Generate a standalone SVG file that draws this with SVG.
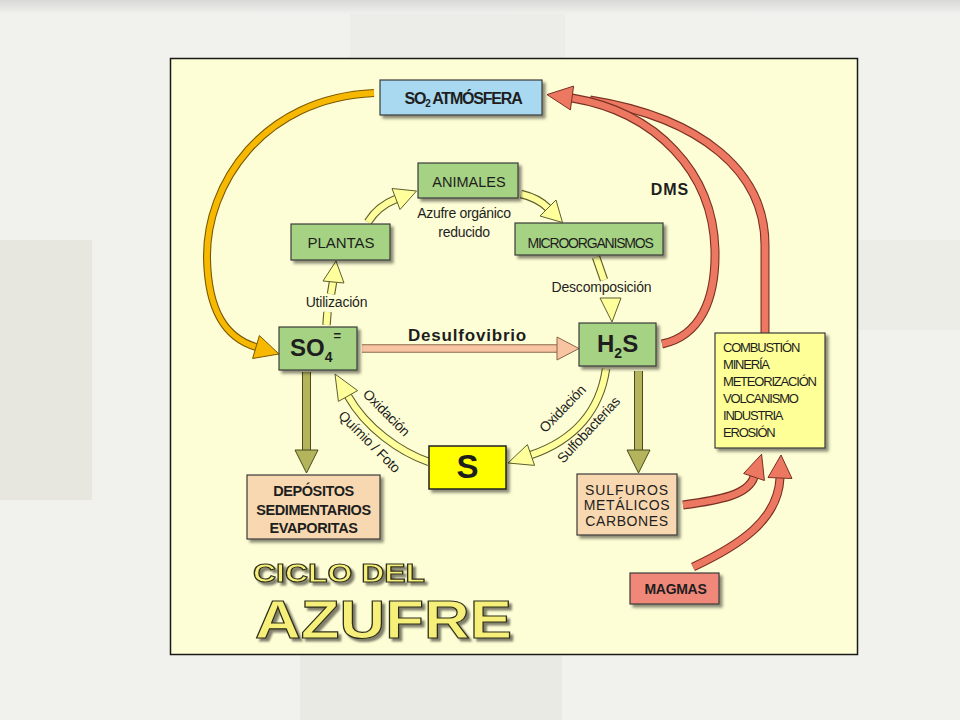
<svg xmlns="http://www.w3.org/2000/svg" width="960" height="720" viewBox="0 0 960 720">
  <defs>
    <linearGradient id="topg" x1="0" y1="0" x2="0" y2="1">
      <stop offset="0" stop-color="#d8d8d8"/>
      <stop offset="1" stop-color="#f0f0ec"/>
    </linearGradient>
    <filter id="sh" x="-20%" y="-20%" width="140%" height="150%">
      <feDropShadow dx="3" dy="3" stdDeviation="1.6" flood-color="#000" flood-opacity="0.45"/>
    </filter>
    <filter id="tsh" x="-10%" y="-20%" width="130%" height="150%">
      <feDropShadow dx="3" dy="3" stdDeviation="1.2" flood-color="#000" flood-opacity="0.5"/>
    </filter>
    <style>
      .box { stroke:#3a3a3a; stroke-width:1.2; filter:url(#sh); }
      .green { fill:#a6d283; }
      .blue { fill:#a9d9f0; }
      .peach { fill:#f8d8b0; }
      .lemon { fill:#ffff98; }
      .yellow { fill:#ffff00; stroke:#222; stroke-width:1.5; }
      .salmon { fill:#f0887a; }
      text { font-family:"Liberation Sans", Arial, sans-serif; fill:#1e1e1e; }
      .c { text-anchor:middle; }
      .b { font-weight:bold; }
      .yo { fill:none; stroke:#5e5e2e; stroke-width:8.5; }
      .yf { fill:none; stroke:#ffff9c; stroke-width:6.3; }
      .yh { fill:#ffff9c; stroke:#5e5e2e; stroke-width:1; stroke-linejoin:round; }
      .ro { fill:none; stroke:#7a3022; stroke-width:9; }
      .rf { fill:none; stroke:#ec7862; stroke-width:6.8; }
      .rh { fill:#ec7862; stroke:#7a3022; stroke-width:1; stroke-linejoin:round; }
      .oo { fill:none; stroke:#7a5800; stroke-width:8; }
      .of { fill:none; stroke:#f6b800; stroke-width:5.8; }
      .oh { fill:#f6b800; stroke:#7a5800; stroke-width:1; stroke-linejoin:round; }
      .po { fill:none; stroke:#8a6448; stroke-width:8.5; }
      .pf { fill:none; stroke:#f8c4a2; stroke-width:6.5; }
      .ph { fill:#f8c4a2; stroke:#8a6448; stroke-width:1; stroke-linejoin:round; }
      .lo { fill:none; stroke:#4a4a1c; stroke-width:9; }
      .lf { fill:none; stroke:#b4b45c; stroke-width:7; }
      .lh { fill:#b4b45c; stroke:#4a4a1c; stroke-width:1; stroke-linejoin:round; }
      .title { font-family:"Liberation Sans", Arial, sans-serif; font-weight:bold; fill:#f6f07a; stroke:#2e2e1a; stroke-width:1.1; filter:url(#tsh); }
    </style>
  </defs>

  <!-- slide background -->
  <rect x="0" y="0" width="960" height="720" fill="#f1f1ed"/>
  <rect x="0" y="0" width="960" height="14" fill="url(#topg)"/>
  <rect x="0" y="240" width="92" height="260" fill="#e7e7e0"/>
  <rect x="350" y="14" width="215" height="44" fill="#ececE8"/>
  <rect x="300" y="655" width="262" height="65" fill="#eaeae5"/>
  <rect x="858" y="240" width="102" height="90" fill="#ededE8"/>

  <!-- panel -->
  <rect x="170.5" y="58.5" width="687" height="596" fill="#fefed6" stroke="#1a1a1a" stroke-width="1.5"/>

  <!-- connectors -->
  <g id="connectors">
    <g id="c-so2-so4">
      <path class="oo" d="M374 93 C262 98 206 185 207 258 C208 312 226 338 256 347"/>
      <path class="of" d="M374 93 C262 98 206 185 207 258 C208 312 226 338 256 347"/>
      <polygon class="oh" points="279,354 252.6,358.5 259.4,335.5"/>
    </g>
    <g id="c-comb-so2">
      <path class="ro" d="M765 334 L765 245 C765 172 702 118 590 100"/>
      <path class="rf" d="M765 334 L765 245 C765 172 702 118 590 100"/>
    </g>
    <g id="c-h2s-so2">
      <path class="ro" d="M662 344 C700 336 716 300 715 250 C713 172 656 112 572 98"/>
      <path class="rf" d="M662 344 C700 336 716 300 715 250 C713 172 656 112 572 98"/>
      <polygon class="rh" points="547,94.6 573.6,86.1 570.4,109.9"/>
    </g>
    <g id="c-so4-h2s">
      <path class="po" d="M362 348.5 L558 348.5"/>
      <path class="pf" d="M362 348.5 L558 348.5"/>
      <polygon class="ph" points="579,348.5 557,337 557,360"/>
    </g>
    <g id="c-so4-plantas">
      <path class="yo" d="M326.5 325 L327.5 312"/>
      <path class="yf" d="M326.5 325 L327.5 312"/>
      <path class="yo" d="M331 294 L333 282"/>
      <path class="yf" d="M331 294 L333 282"/>
      <polygon class="yh" points="336,261 344,283 323,281"/>
    </g>
    <g id="c-plantas-animales">
      <path class="yo" d="M368 222 Q378 206 396 199"/>
      <path class="yf" d="M368 222 Q378 206 396 199"/>
      <polygon class="yh" points="416.5,191 400,209.5 392,188.5"/>
    </g>
    <g id="c-animales-micro">
      <path class="yo" d="M521 194 Q538 198 548 208"/>
      <path class="yf" d="M521 194 Q538 198 548 208"/>
      <polygon class="yh" points="562.5,222.5 540,216 556,200"/>
    </g>
    <g id="c-micro-h2s">
      <path class="yo" d="M596 257 L604 280"/>
      <path class="yf" d="M596 257 L604 280"/>
      <polygon class="yh" points="600,298 621,298 612,322"/>
    </g>
    <g id="c-h2s-s">
      <path class="yo" d="M606 369 C600 410 575 440 531 455"/>
      <path class="yf" d="M606 369 C600 410 575 440 531 455"/>
      <polygon class="yh" points="508,463 534.6,465.4 527.4,444.6"/>
    </g>
    <g id="c-s-so4">
      <path class="yo" d="M429 462 C400 452 366 428 348 396"/>
      <path class="yf" d="M429 462 C400 452 366 428 348 396"/>
      <polygon class="yh" points="335,374 338.4,401.4 357.6,390.6"/>
    </g>
    <g id="c-so4-dep">
      <path class="lo" d="M306.5 372 L306.5 451"/>
      <path class="lf" d="M306.5 372 L306.5 451"/>
      <polygon class="lh" points="295,450 318,450 306.5,473"/>
    </g>
    <g id="c-h2s-sulf">
      <path class="lo" d="M638.5 371 L638.5 451"/>
      <path class="lf" d="M638.5 371 L638.5 451"/>
      <polygon class="lh" points="627,450 650,450 638.5,473"/>
    </g>
    <g id="c-sulf-comb">
      <path class="ro" d="M683 505 C720 500 748 495 754 477"/>
      <path class="rf" d="M683 505 C720 500 748 495 754 477"/>
      <polygon class="rh" points="761.6,454.2 764.4,480.5 743.6,473.5"/>
    </g>
    <g id="c-magmas-comb">
      <path class="ro" d="M693 567 C740 545 778 520 780 478"/>
      <path class="rf" d="M693 567 C740 545 778 520 780 478"/>
      <polygon class="rh" points="781,455 792,478.5 768,477.5"/>
    </g>
  </g>

  <!-- connector labels -->
  <text x="464" y="218" font-size="14" letter-spacing="-0.3" class="c">Azufre orgánico</text>
  <text x="464" y="237" font-size="14" letter-spacing="-0.3" class="c">reducido</text>
  <text x="336.5" y="307" font-size="14" letter-spacing="-0.2" class="c">Utilización</text>
  <text x="601.5" y="292" font-size="14" letter-spacing="-0.2" class="c">Descomposición</text>
  <text x="467.5" y="341" font-size="17" letter-spacing="0.8" class="c b">Desulfovibrio</text>
  <text x="670" y="195" font-size="16" letter-spacing="1" class="c b">DMS</text>
  <text x="0" y="0" font-size="14" letter-spacing="-0.3" class="c" transform="translate(566,412) rotate(-46)">Oxidación</text>
  <text x="0" y="0" font-size="14" letter-spacing="-0.3" class="c" transform="translate(592,433) rotate(-47)">Sulfobacterias</text>
  <text x="0" y="0" font-size="14" letter-spacing="-0.3" class="c" transform="translate(383,416) rotate(45)">Oxidación</text>
  <text x="0" y="0" font-size="14" letter-spacing="-0.3" class="c" transform="translate(366,445) rotate(45)">Químio / Foto</text>

  <!-- nodes -->
  <g id="so2">
    <rect class="box blue" x="380" y="80" width="162" height="35"/>
    <text x="463" y="104" font-size="16" letter-spacing="-1.2" class="c b">SO<tspan font-size="10" dy="3">2</tspan><tspan dy="-3"> ATMÓSFERA</tspan></text>
  </g>
  <g id="animales">
    <rect class="box green" x="418" y="163" width="100" height="35"/>
    <text x="469" y="187" font-size="14.5" class="c">ANIMALES</text>
  </g>
  <g id="plantas">
    <rect class="box green" x="291" y="224" width="99" height="36"/>
    <text x="341" y="248" font-size="15" class="c">PLANTAS</text>
  </g>
  <g id="microorganismos">
    <rect class="box green" x="515" y="223" width="148" height="32"/>
    <text x="590" y="248" font-size="14" letter-spacing="-1.2" class="c">MICROORGANISMOS</text>
  </g>
  <g id="so4">
    <rect class="box green" x="279" y="327" width="78" height="43"/>
    <text x="290" y="356" font-size="24" class="b">SO<tspan font-size="14" dy="6">4</tspan><tspan font-size="13" dx="1" dy="-22">=</tspan></text>
  </g>
  <g id="h2s">
    <rect class="box green" x="579" y="323" width="77" height="43"/>
    <text x="597" y="352" font-size="24" class="b">H<tspan font-size="14" dy="6">2</tspan><tspan dy="-6">S</tspan></text>
  </g>
  <g id="s">
    <rect class="box yellow" x="429" y="446" width="77" height="43"/>
    <text x="467.5" y="478" font-size="33" class="c b">S</text>
  </g>
  <g id="depositos">
    <rect class="box peach" x="247" y="475" width="133" height="64"/>
    <text x="313.5" y="496" font-size="14.5" letter-spacing="-0.4" class="c b">DEPÓSITOS</text>
    <text x="313.5" y="515" font-size="14.5" letter-spacing="-0.4" class="c b">SEDIMENTARIOS</text>
    <text x="313.5" y="533" font-size="14.5" letter-spacing="-0.4" class="c b">EVAPORITAS</text>
  </g>
  <g id="sulfuros">
    <rect class="box peach" x="577" y="474" width="100" height="61"/>
    <text x="627" y="495" font-size="14" letter-spacing="1" class="c">SULFUROS</text>
    <text x="627" y="510" font-size="14" letter-spacing="0.6" class="c">METÁLICOS</text>
    <text x="627" y="526" font-size="14" letter-spacing="0.6" class="c">CARBONES</text>
  </g>
  <g id="combustion">
    <rect class="box lemon" x="715" y="333" width="110" height="115"/>
    <text x="723" y="352" font-size="13" letter-spacing="-1.2">COMBUSTIÓN</text>
    <text x="723" y="369" font-size="13" letter-spacing="-1.2">MINERÍA</text>
    <text x="723" y="386" font-size="13" letter-spacing="-1.2">METEORIZACIÓN</text>
    <text x="723" y="403" font-size="13" letter-spacing="-1.2">VOLCANISMO</text>
    <text x="723" y="420" font-size="13" letter-spacing="-1.2">INDUSTRIA</text>
    <text x="723" y="437" font-size="13" letter-spacing="-1.2">EROSIÓN</text>
  </g>
  <g id="magmas">
    <rect class="box salmon" x="630" y="573" width="89" height="31"/>
    <text x="675.5" y="594" font-size="14" letter-spacing="-0.3" class="c b">MAGMAS</text>
  </g>

  <!-- title -->
  <g id="title">
    <text class="title" x="253" y="582" font-size="26" textLength="172" lengthAdjust="spacingAndGlyphs">CICLO DEL</text>
    <text class="title" x="255" y="638" font-size="54" textLength="257" lengthAdjust="spacingAndGlyphs">AZUFRE</text>
  </g>
</svg>
